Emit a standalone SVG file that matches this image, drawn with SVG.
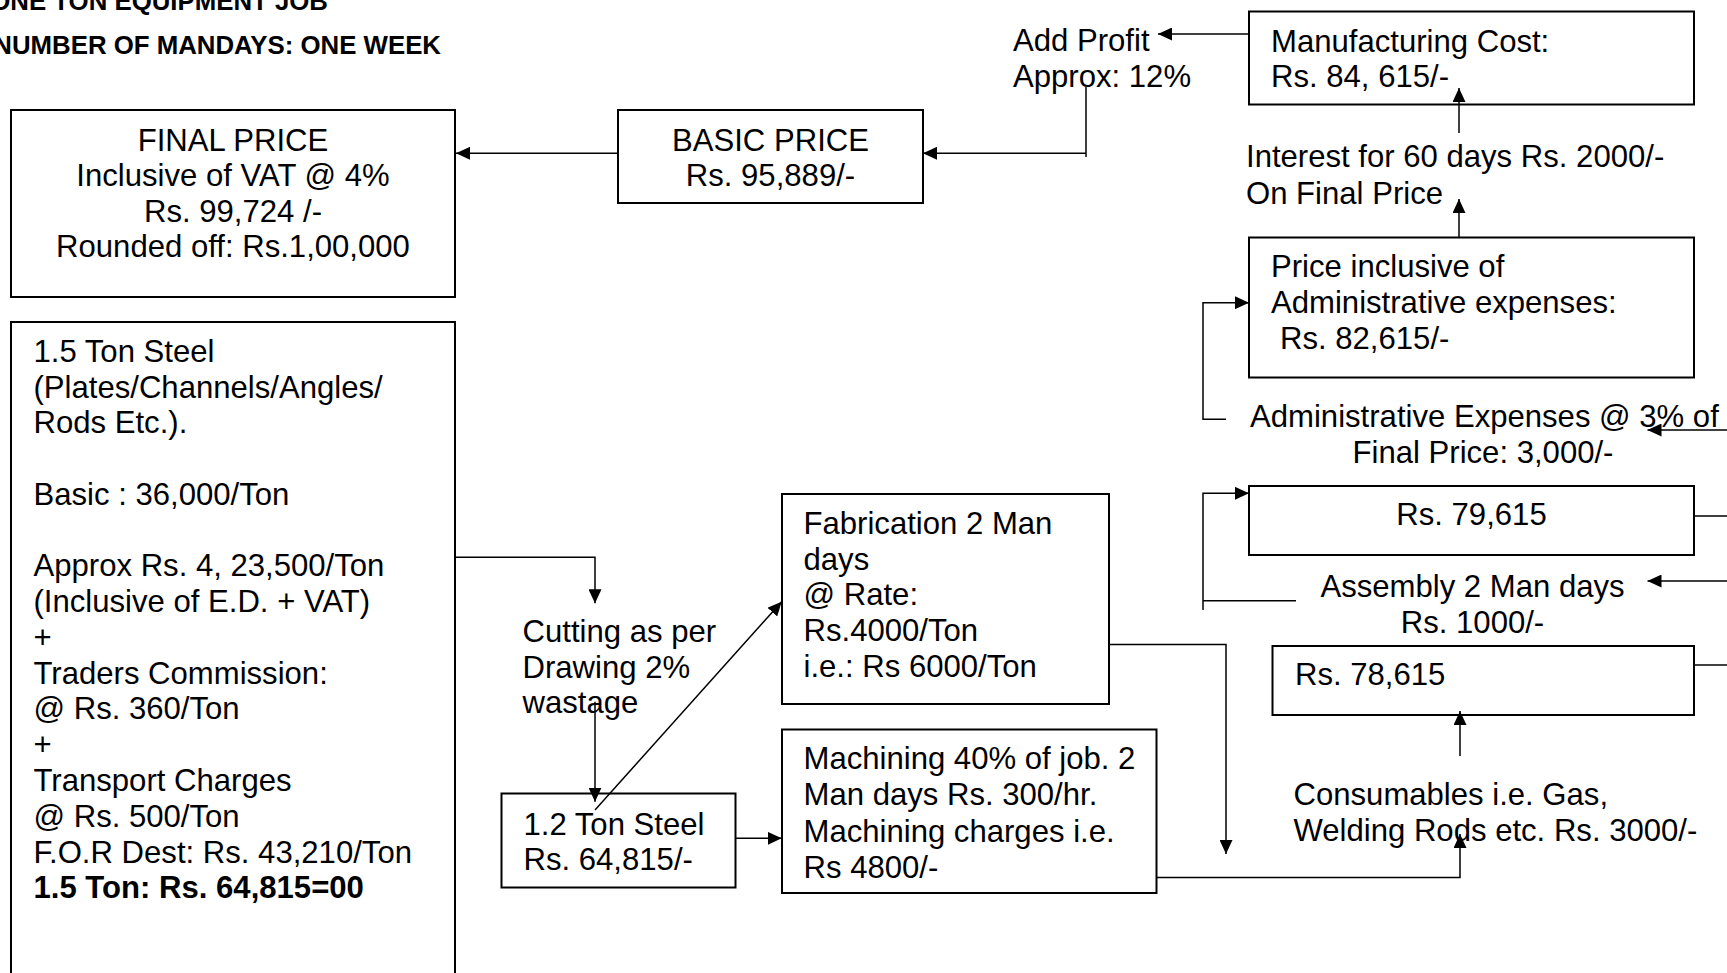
<svg xmlns="http://www.w3.org/2000/svg" width="1727" height="973" viewBox="0 0 1727 973">
<style>
text{font-family:"Liberation Sans",Arial,sans-serif;font-size:31.1px;fill:#000}
.t{font-size:25.8px;font-weight:bold}
.b{font-weight:bold}
.box{fill:#fff;stroke:#000;stroke-width:2}
.c{fill:none;stroke:#000;stroke-width:1.5}
.m{text-anchor:middle}
</style>
<defs>
<marker id="ah" viewBox="0 0 14 13" refX="14" refY="6.5" markerWidth="14" markerHeight="13" markerUnits="userSpaceOnUse" orient="auto">
<path d="M0,0 L14,6.5 L0,13 z" fill="#000"/>
</marker>
</defs>
<rect width="1727" height="973" fill="#fff"/>
<g id="title">
<text class="t" x="328" y="10" text-anchor="end">ONE TON EQUIPMENT JOB</text>
<text class="t" x="441" y="54" text-anchor="end">NUMBER OF MANDAYS: ONE WEEK</text>
</g>
<g id="final-price">
<rect class="box" x="11" y="110" width="444" height="187"/>
<text class="m" x="233" y="150.5">FINAL PRICE</text>
<text class="m" x="233" y="186">Inclusive of VAT @ 4%</text>
<text class="m" x="233" y="221.5">Rs. 99,724 /-</text>
<text class="m" x="233" y="257">Rounded off: Rs.1,00,000</text>
</g>
<g id="basic-price">
<rect class="box" x="618" y="110" width="305" height="93"/>
<text class="m" x="770.5" y="150.5">BASIC PRICE</text>
<text class="m" x="770.5" y="186">Rs. 95,889/-</text>
</g>
<g id="add-profit">
<text x="1013" y="50.5">Add Profit</text>
<text x="1013" y="87">Approx: 12%</text>
</g>
<g id="manufacturing-cost">
<rect class="box" x="1249" y="11.5" width="445" height="93"/>
<text x="1271" y="51.5">Manufacturing Cost:</text>
<text x="1271" y="87">Rs. 84, 615/-</text>
</g>
<g id="interest">
<text x="1246" y="167">Interest for 60 days Rs. 2000/-</text>
<text x="1246" y="203.5">On Final Price</text>
</g>
<g id="price-admin">
<rect class="box" x="1249" y="237.5" width="445" height="140"/>
<text x="1271" y="277">Price inclusive of</text>
<text x="1271" y="313">Administrative expenses:</text>
<text x="1280" y="348.5">Rs. 82,615/-</text>
</g>
<g id="admin-expenses">
<text x="1250" y="426.5">Administrative Expenses @ 3% of</text>
<text class="m" x="1483" y="462.5">Final Price: 3,000/-</text>
</g>
<g id="rs-79615">
<rect class="box" x="1249" y="486" width="445" height="69"/>
<text class="m" x="1471.5" y="525">Rs. 79,615</text>
</g>
<g id="assembly">
<text class="m" x="1472.5" y="597">Assembly 2 Man days</text>
<text class="m" x="1472.5" y="633">Rs. 1000/-</text>
</g>
<g id="rs-78615">
<rect class="box" x="1272.5" y="646" width="421.5" height="69"/>
<text x="1295" y="684.5">Rs. 78,615</text>
</g>
<g id="consumables">
<text x="1293.5" y="804.5">Consumables i.e. Gas,</text>
<text x="1293.5" y="840.5">Welding Rods etc. Rs. 3000/-</text>
</g>
<g id="steel-15">
<rect class="box" x="11" y="322" width="444" height="700"/>
<text x="33.5" y="361.5">1.5 Ton Steel</text>
<text x="33.5" y="397.5">(Plates/Channels/Angles/</text>
<text x="33.5" y="433">Rods Etc.).</text>
<text x="33.5" y="504.5">Basic : 36,000/Ton</text>
<text x="33.5" y="576">Approx Rs. 4, 23,500/Ton</text>
<text x="33.5" y="612">(Inclusive of E.D. + VAT)</text>
<text x="33.5" y="647.5">+</text>
<text x="33.5" y="683.5">Traders Commission:</text>
<text x="33.5" y="719">@ Rs. 360/Ton</text>
<text x="33.5" y="755">+</text>
<text x="33.5" y="790.5">Transport Charges</text>
<text x="33.5" y="826.5">@ Rs. 500/Ton</text>
<text x="33.5" y="862.5">F.O.R Dest: Rs. 43,210/Ton</text>
<text class="b" x="33.5" y="898">1.5 Ton: Rs. 64,815=00</text>
</g>
<g id="cutting">
<text x="522.5" y="642">Cutting as per</text>
<text x="522.5" y="677.5">Drawing 2%</text>
<text x="522.5" y="713">wastage</text>
</g>
<g id="steel-12">
<rect class="box" x="501.5" y="793.5" width="234" height="94"/>
<text x="523.5" y="835">1.2 Ton Steel</text>
<text x="523.5" y="870">Rs. 64,815/-</text>
</g>
<g id="fabrication">
<rect class="box" x="782" y="494" width="327" height="210"/>
<text x="803.5" y="533.5">Fabrication 2 Man</text>
<text x="803.5" y="569.5">days</text>
<text x="803.5" y="605">@ Rate:</text>
<text x="803.5" y="640.5">Rs.4000/Ton</text>
<text x="803.5" y="676.5">i.e.: Rs 6000/Ton</text>
</g>
<g id="machining">
<rect class="box" x="782" y="729.5" width="374.5" height="163.5"/>
<text x="803.5" y="768.5">Machining 40% of job. 2</text>
<text x="803.5" y="805">Man days Rs. 300/hr.</text>
<text x="803.5" y="841.5">Machining charges i.e.</text>
<text x="803.5" y="877.5">Rs 4800/-</text>
</g>
<g id="connectors">
<path class="c" d="M618,153.3 H456" marker-end="url(#ah)"/>
<path class="c" d="M1086,87 V157"/>
<path class="c" d="M1086,153.3 H923" marker-end="url(#ah)"/>
<path class="c" d="M1249,34 H1158" marker-end="url(#ah)"/>
<path class="c" d="M1459,133 V88" marker-end="url(#ah)"/>
<path class="c" d="M1459,237 V199" marker-end="url(#ah)"/>
<path class="c" d="M1226,419.3 H1203 V302.7 H1249" marker-end="url(#ah)"/>
<path class="c" d="M1727,430 H1647.5" marker-end="url(#ah)"/>
<path class="c" d="M1694,516 H1727"/>
<path class="c" d="M1296,600.7 H1203"/>
<path class="c" d="M1203,610 V493.3 H1249" marker-end="url(#ah)"/>
<path class="c" d="M1727,581 H1647.5" marker-end="url(#ah)"/>
<path class="c" d="M1694,665 H1727"/>
<path class="c" d="M1109,644.5 H1226 V854" marker-end="url(#ah)"/>
<path class="c" d="M1156.5,877.5 H1460 V834" marker-end="url(#ah)"/>
<path class="c" d="M1460,756 V711" marker-end="url(#ah)"/>
<path class="c" d="M455,557.3 H595 V603.3" marker-end="url(#ah)"/>
<path class="c" d="M595,701.7 V801.7" marker-end="url(#ah)"/>
<path class="c" d="M595,810 L781.7,601.7" marker-end="url(#ah)"/>
<path class="c" d="M735.5,838.3 H781.7" marker-end="url(#ah)"/>
</g>
</svg>
